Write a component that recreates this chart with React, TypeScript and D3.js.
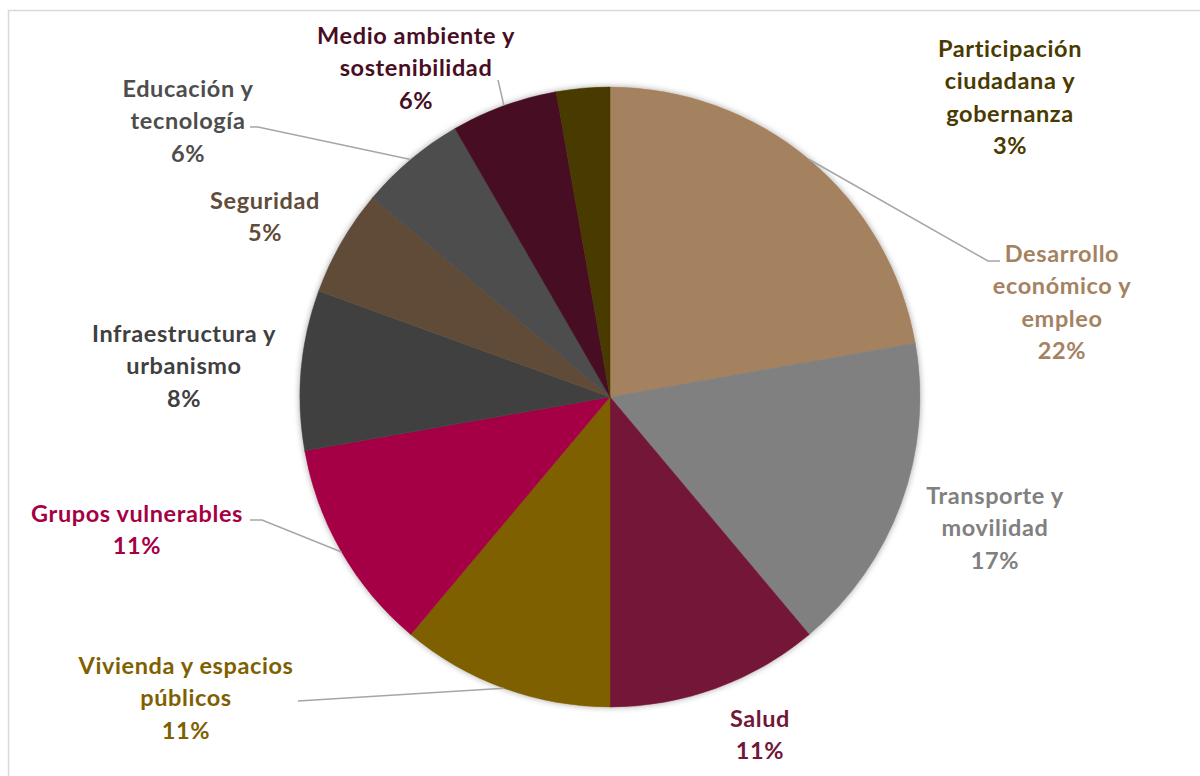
import React, { useEffect } from "react";
import * as d3 from "d3";

// ---- data ----
const categories: string[][] = [
  ["Desarrollo", "económico y", "empleo"],
  ["Transporte y", "movilidad"],
  ["Salud"],
  ["Vivienda y espacios", "públicos"],
  ["Grupos vulnerables"],
  ["Infraestructura y", "urbanismo"],
  ["Seguridad"],
  ["Educación y", "tecnología"],
  ["Medio ambiente y", "sostenibilidad"],
  ["Participación", "ciudadana y", "gobernanza"],
];
const values: number[] = [8, 6, 4, 4, 4, 3, 2, 2, 2, 1];
const pctLabels: string[] = ["22%", "17%", "11%", "11%", "11%", "8%", "5%", "6%", "6%", "3%"];
const colors: string[] = [
  "#A5825F", "#808080", "#731638", "#7F6000", "#A50044",
  "#404040", "#604C39", "#4D4D4D", "#470E23", "#4A3A00",
];
const textColors: string[] = [
  "#A5825F", "#808080", "#731638", "#7F6000", "#A50044",
  "#404040", "#604C39", "#4D4D4D", "#470E23", "#4A3A00",
];

// ---- layout (label placement) ----
const labelLayout: { x: number; y: number; leader?: [number, number][] }[] = [
  { x: 1062, y: 253, leader: [[1000, 261], [988, 261]] },
  { x: 995, y: 495 },
  { x: 760, y: 718 },
  { x: 186, y: 665, leader: [[298, 701]] },
  { x: 137, y: 513, leader: [[250, 520], [262, 520]] },
  { x: 184, y: 333 },
  { x: 265, y: 200 },
  { x: 188, y: 88, leader: [[250, 127], [258, 127]] },
  { x: 416, y: 35, leader: [[498, 80]] },
  { x: 1010, y: 48 },
];

const W = 1200, H = 776;
const cx = 610, cy = 397, R = 310;
const lineH = 32.5;

export default function App() {
  useEffect(() => {
    document.body.style.margin = "0";
  }, []);

  const pie = d3.pie<number>().sort(null).value((d) => d).startAngle(0).endAngle(2 * Math.PI);
  const arcs = pie(values);
  const arcGen = d3.arc<d3.PieArcDatum<number>>().innerRadius(0).outerRadius(R);

  return (
    <svg width={W} height={H} style={{ display: "block", background: "#fff" }} fontFamily="Lato, 'Open Sans', sans-serif">
      <defs>
        <filter id="sh" x="-20%" y="-20%" width="140%" height="140%">
          <feDropShadow dx="0" dy="0" stdDeviation="3" floodColor="#000" floodOpacity="0.35" />
        </filter>
      </defs>
      <rect x={8.5} y={10.5} width={1300} height={900} fill="#fff" stroke="#D9D9D9" strokeWidth={1.5} />
      <g transform={`translate(${cx},${cy})`}>
        <g filter="url(#sh)">
          {arcs.map((a, i) => (
            <path key={i} d={arcGen(a) || ""} fill={colors[i]} stroke={colors[i]} strokeWidth={0.5} />
          ))}
        </g>
      </g>
      {arcs.map((a, i) => {
        const L = labelLayout[i];
        if (!L.leader) return null;
        const mid = (a.startAngle + a.endAngle) / 2;
        const sx = cx + R * Math.sin(mid);
        const sy = cy - R * Math.cos(mid);
        const pts: [number, number][] = [...L.leader, [sx, sy]];
        const line = d3.line();
        return <path key={"l" + i} d={line(pts) || ""} fill="none" stroke="#A6A6A6" strokeWidth={1.5} />;
      })}
      {categories.map((lines, i) => {
        const L = labelLayout[i];
        const all = [...lines, pctLabels[i]];
        return (
          <text key={"t" + i} textAnchor="middle" fontWeight={700} fontSize={23.5} letterSpacing={0.6} fill={textColors[i]}>
            {all.map((s, j) => (
              <tspan key={j} x={L.x} y={L.y + j * lineH + 8.5}>{s}</tspan>
            ))}
          </text>
        );
      })}
    </svg>
  );
}
